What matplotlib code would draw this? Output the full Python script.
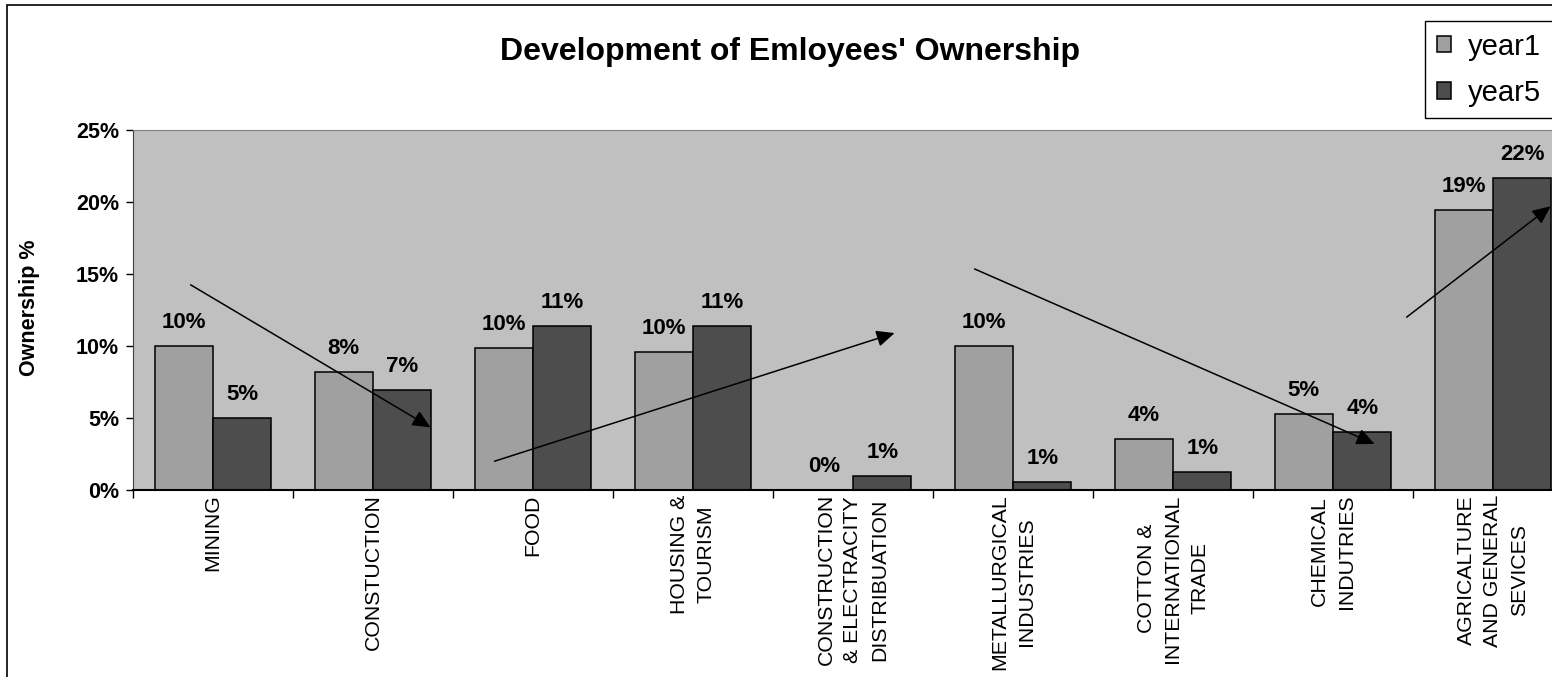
import numpy as np
import matplotlib
matplotlib.use('Agg')
import matplotlib.pyplot as plt
from matplotlib.patches import Rectangle
from matplotlib.ticker import PercentFormatter

plt.rcParams['font.family'] = ['Liberation Sans', 'DejaVu Sans']

# Data (ownership %)
sectors = ['MINING', 'CONSTUCTION', 'FOOD', 'HOUSING &\nTOURISM',
           'CONSTRUCTION\n& ELECTRACITY\nDISTRIBUATION', 'METALLURGICAL\nINDUSTRIES',
           'COTTON &\nINTERNATIONAL\nTRADE', 'CHEMICAL\nINDUTRIES',
           'AGRICALTURE\nAND GENERAL\nSEVICES']
year1 = [10.0, 8.2, 9.85, 9.6, 0.0, 10.0, 3.55, 5.3, 19.45]
year5 = [5.0, 6.95, 11.4, 11.4, 0.95, 0.55, 1.25, 4.0, 21.65]

# trend arrows (start, end) in data coordinates (category index, %)
trend_arrows = [((-0.14, 14.25), (1.36, 4.35)),
                ((1.76, 2.0), (4.26, 10.9)),
                ((4.76, 15.35), (7.26, 3.2)),
                ((7.46, 12.0), (8.36, 19.7))]

W, H = 1552, 677
fig = plt.figure(figsize=(W / 100, H / 100), dpi=100)
fig.patch.set_facecolor('white')

# plot area runs past the right edge of the picture, as in the original
ax = fig.add_axes([133 / W, (H - 490) / H, (1573 - 133) / W, (490 - 130) / H])
ax.set_facecolor('#C0C0C0')

x = np.arange(len(sectors))
w = 0.365
b1 = ax.bar(x - w / 2, year1, w, color='#A0A0A0', edgecolor='black', linewidth=1.1, label='year1', zorder=2)
b5 = ax.bar(x + w / 2, year5, w, color='#4D4D4D', edgecolor='black', linewidth=1.1, label='year5', zorder=2)

for bars, vals in ((b1, year1), (b5, year5)):
    for r, v in zip(bars, vals):
        ax.annotate(f'{v:.0f}%', (r.get_x() + r.get_width() / 2, v), xytext=(0, 18),
                    textcoords='offset pixels', ha='center', va='baseline',
                    fontsize=16, fontweight='bold', zorder=4)

for start, end in trend_arrows:
    ax.annotate('', xy=end, xytext=start,
                arrowprops=dict(arrowstyle='-|>,head_length=0.55,head_width=0.25',
                                mutation_scale=20, lw=1.1, color='black',
                                shrinkA=0, shrinkB=0), zorder=5)

ax.set_xlim(-0.5, len(sectors) - 0.5)
ax.set_ylim(0, 25)
ax.set_yticks([0, 5, 10, 15, 20, 25])
ax.yaxis.set_major_formatter(PercentFormatter(decimals=0))
ax.tick_params(axis='y', length=5, width=1, pad=5, labelsize=15.5, direction='out')
for lab in ax.get_yticklabels():
    lab.set_fontweight('bold')

ax.set_xticks(x)
ax.set_xticklabels(sectors, rotation=90, ha='center', va='top', multialignment='center',
                   fontsize=15.3, linespacing=1.5)
ax.set_xticks(np.arange(-0.5, len(sectors)), minor=True)
ax.tick_params(axis='x', which='major', length=0, pad=3)
ax.tick_params(axis='x', which='minor', length=6, width=1, direction='out')

ax.spines['top'].set_color('#808080')
ax.spines['right'].set_color('#808080')
ax.spines['left'].set_color('#404040')
ax.spines['bottom'].set_color('black')
ax.spines['bottom'].set_linewidth(1.5)

fig.text(790 / W, 1 - 52 / H, "Development of Emloyees' Ownership", ha='center', va='center',
         fontsize=23, fontweight='bold')
fig.text(30 / W, 1 - 308 / H, 'Ownership %', rotation=90, ha='center', va='center',
         fontsize=15.5, fontweight='bold')

leg = fig.legend(handles=[b1, b5], labels=['year1', 'year5'], loc='upper left',
                 bbox_to_anchor=(1425 / W, 1 - 21 / H), fontsize=21, frameon=True,
                 fancybox=False, framealpha=1, edgecolor='black', borderpad=0.4,
                 handlelength=0.48, handleheight=0.48, handletextpad=0.6, labelspacing=0.62,
                 borderaxespad=0)
leg.get_frame().set_linewidth(1)

# chart-area border (cut off on the right and bottom)
fig.add_artist(Rectangle((7 / W, -0.1), 2, 1.1 - 5 / H, transform=fig.transFigure,
                         fill=False, edgecolor='black', linewidth=1.2, clip_on=False))

fig.savefig('out.png', dpi=100)
